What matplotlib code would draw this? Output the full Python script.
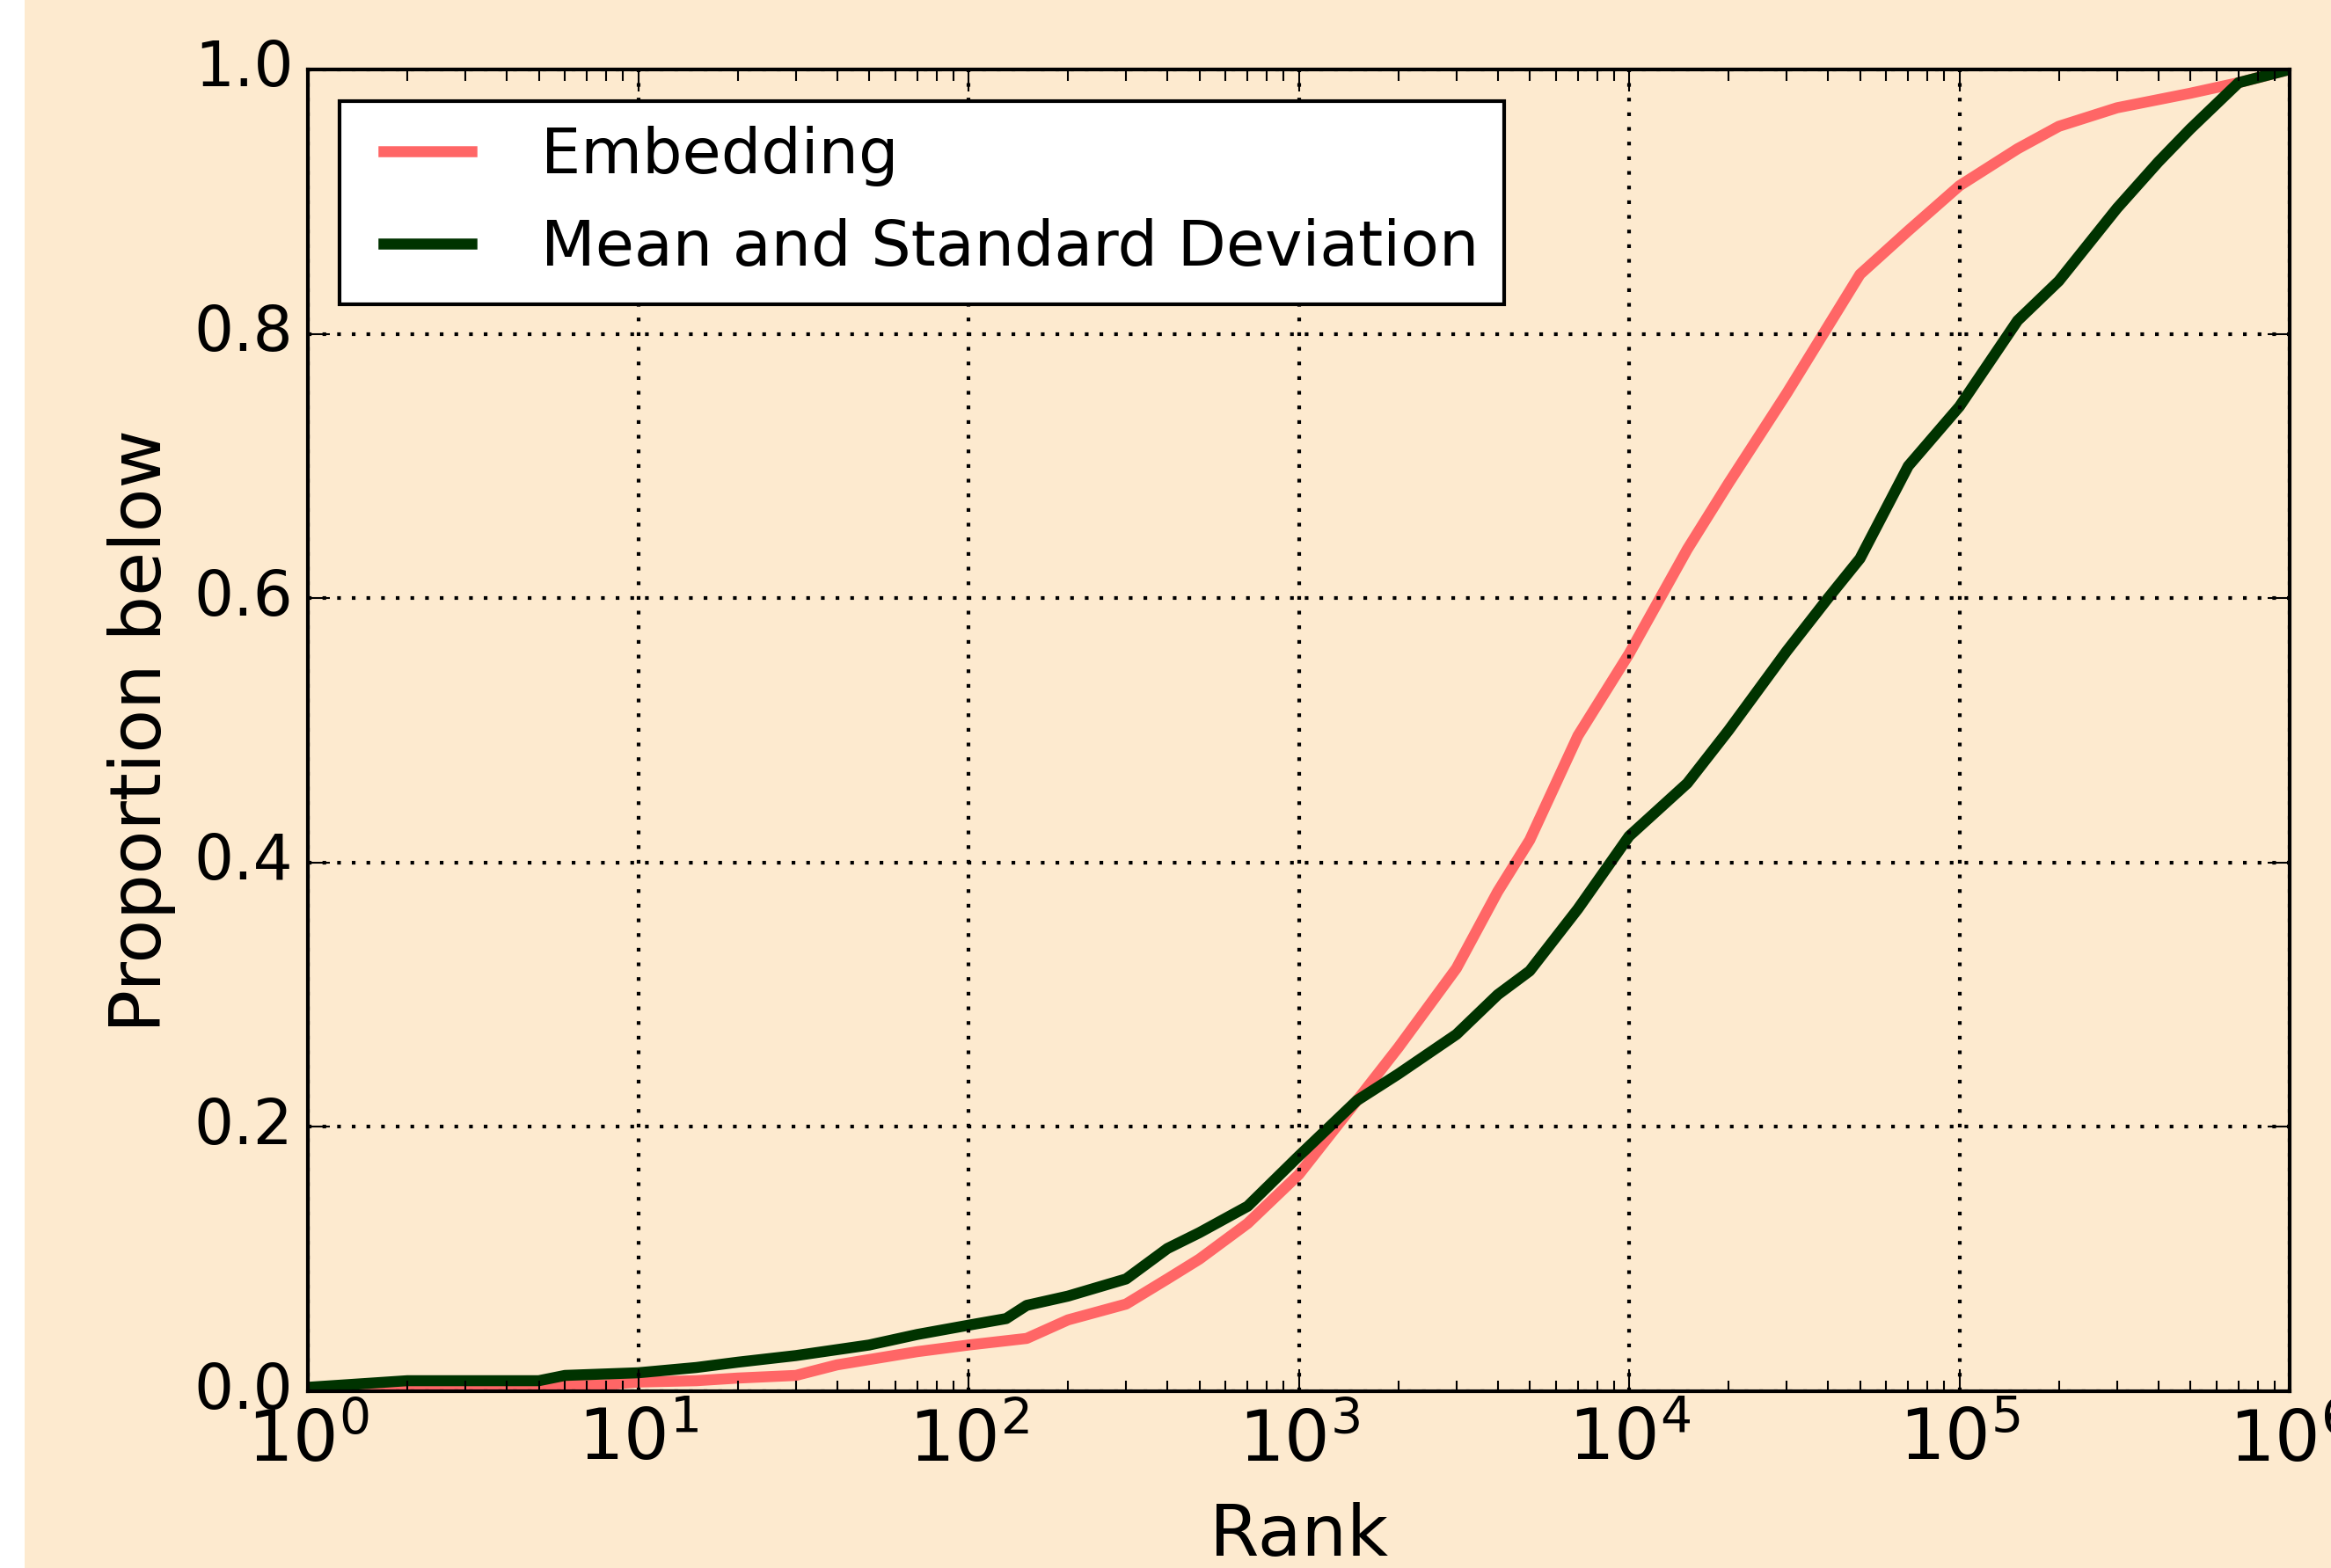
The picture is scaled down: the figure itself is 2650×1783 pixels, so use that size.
import matplotlib
matplotlib.use("Agg")
import matplotlib.pyplot as plt
from matplotlib.patches import Rectangle

plt.style.use("classic")
plt.rcParams["font.family"] = ["DejaVu Sans"]
plt.rcParams["mathtext.fontset"] = "dejavusans"

# rank values (log x) and proportion below
emb_rank = [1, 2, 5, 8, 10, 15, 20, 30, 40, 50, 70, 100, 150, 200, 300, 400, 500,
            700, 1000, 1500, 2000, 3000, 4000, 5000, 7000, 10000, 15000, 20000,
            30000, 50000, 70000, 100000, 150000, 200000, 300000, 500000, 700000, 1000000]
emb_prop = [0.0, 0.003, 0.004, 0.005, 0.007, 0.008, 0.01, 0.012, 0.02, 0.024, 0.03,
            0.035, 0.04, 0.054, 0.066, 0.085, 0.10, 0.127, 0.164, 0.22, 0.26, 0.32,
            0.378, 0.417, 0.496, 0.558, 0.637, 0.687, 0.755, 0.845, 0.878, 0.912,
            0.94, 0.957, 0.971, 0.982, 0.99, 1.0]

msd_rank = [1, 2, 5, 6, 10, 15, 20, 30, 50, 70, 100, 130, 150, 200, 300, 400, 500,
            700, 1000, 1500, 2000, 3000, 4000, 5000, 7000, 10000, 15000, 20000,
            30000, 40000, 50000, 70000, 100000, 150000, 200000, 300000, 400000,
            500000, 700000, 1000000]
msd_prop = [0.003, 0.008, 0.008, 0.012, 0.014, 0.018, 0.022, 0.027, 0.035, 0.043,
            0.05, 0.055, 0.065, 0.072, 0.085, 0.108, 0.12, 0.14, 0.178, 0.22, 0.24,
            0.27, 0.30, 0.318, 0.365, 0.42, 0.46, 0.50, 0.56, 0.60, 0.63, 0.70,
            0.745, 0.81, 0.84, 0.895, 0.93, 0.955, 0.99, 1.0]

bg = "#fdeacf"
fig = plt.figure(figsize=(2650 / 300, 1783 / 300), dpi=300, facecolor=bg)
# thin white strip on the left edge
fig.patches.append(Rectangle((0, 0), 28 / 2650, 1, transform=fig.transFigure,
                             facecolor="white", edgecolor="none", zorder=-1))

ax = fig.add_axes([0.1321, 0.1127, 0.8502, 0.843], facecolor=bg)
ax.plot(emb_rank, emb_prop, color="#ff6666", lw=3, label="Embedding")
ax.plot(msd_rank, msd_prop, color="#003300", lw=3, label="Mean and Standard Deviation")

ax.set_xscale("log")
ax.set_xlim(1, 1e6)
ax.set_ylim(0, 1.0)
ax.grid(True, color="k", linestyle=":", linewidth=1.0)
ax.tick_params(which="both", direction="in", top=True, right=True)
ax.tick_params(axis="y", labelsize=17)
ax.tick_params(axis="x", labelsize=19.5)
ax.tick_params(which="major", length=6)
ax.tick_params(which="minor", length=3)
ax.set_xlabel("Rank", fontsize=19.5, labelpad=7)
ax.set_ylabel("Proportion below", fontsize=19.5)
for s in ax.spines.values():
    s.set_linewidth(1.0)

leg = ax.legend(loc="upper left", fontsize=17.2, handlelength=2.0, handletextpad=0.8,
                fancybox=False, framealpha=1, facecolor="white", edgecolor="black")
leg.get_frame().set_linewidth(1.0)

fig.savefig("out.png", dpi=300, facecolor=bg)
